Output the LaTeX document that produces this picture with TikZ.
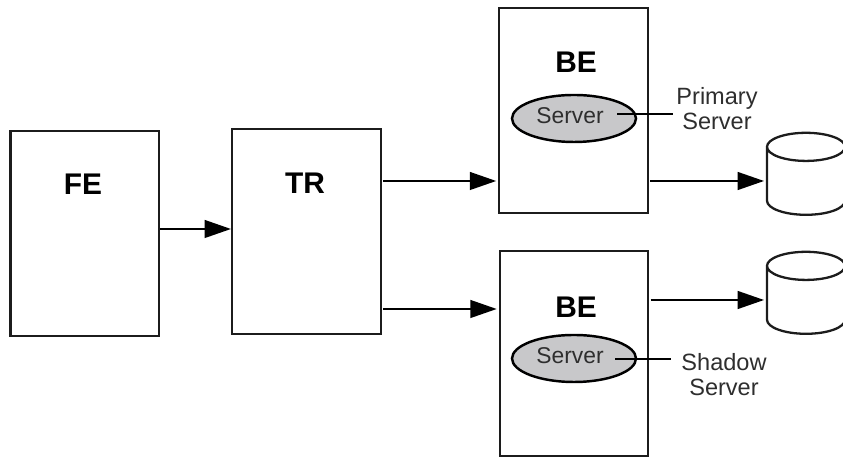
\documentclass[tikz,border=0pt]{standalone}
\usepackage{fontspec}
\setmainfont{Liberation Sans}
\usetikzlibrary{arrows.meta,shapes.geometric}
\definecolor{colorline}{HTML}{1C1C1C}
\definecolor{colorserver}{HTML}{C8C8CA}
\definecolor{colortext}{HTML}{2E2E2E}
\tikzset{
  tier/.style={draw=colorline, line width=1.4pt, minimum width=2.97cm, minimum height=4.1cm},
  tiername/.style={draw=none, font=\fontsize{17}{20}\selectfont\bfseries},
  server/.style={ellipse, draw=black, fill=colorserver, line width=1.4pt, minimum width=2.48cm, minimum height=0.94cm},
  servername/.style={draw=none, colortext, font=\fontsize{13}{14.3}\selectfont},
  rolename/.style={draw=none, colortext, align=center, font=\fontsize{13.4}{14.3}\selectfont},
  store/.style={cylinder, shape border rotate=90, aspect=8, draw=colorline, line width=1.3pt, minimum width=1.56cm, minimum height=1.64cm},
  edgeflow/.style={black, line width=1.4pt, shorten <=0.6pt, shorten >=1pt, -{Triangle[length=15pt,width=10pt]}},
  edgetap/.style={black, line width=1.4pt}
}

\begin{document}
\begin{tikzpicture}[inner sep=1pt]
\useasboundingbox (0,0) rectangle (16.86,9.16);

\node[tier](fe) at (1.695,4.49) {};
\node[tiername](fename) at (1.66,5.48) {FE};

\node[tier](tr) at (6.13,4.525) {};
\node[tiername](trname) at (6.10,5.50) {TR};

\node[tier](bea) at (11.47,6.95) {};
\node[tiername](beaname) at (11.52,7.92) {BE};

\node[tier](beb) at (11.48,2.09) {};
\node[tiername](bebname) at (11.52,3.02) {BE};

\node[server](srva) at (11.48,6.79) {};
\node[servername](srvaname) at (11.40,6.84) {Server};

\node[server](srvb) at (11.48,1.99) {};
\node[servername](srvbname) at (11.40,2.04) {Server};

\node[rolename](primary) at (14.34,6.98) {Primary\\Server};
\node[rolename](shadow) at (14.48,1.66) {Shadow\\Server};

\node[store](dba) at (16.12,5.49) {};
\node[store](dbb) at (16.12,3.11) {};

\coordinate (rowfe) at (0,4.58);
\coordinate (rowtra) at (0,5.54);
\coordinate (rowtrb) at (0,2.98);
\coordinate (rowdba) at (0,5.54);
\coordinate (rowdbb) at (0,3.16);
\coordinate (tapa) at (12.34,6.88);
\coordinate (tapb) at (12.30,1.98);

\draw[edgeflow, shorten <=0pt, shorten >=0pt] (fe.east |- rowfe) -- (tr.west |- rowfe);

\draw[edgeflow] (tr.east |- rowtra) -- (bea.west |- rowtra);

\draw[edgeflow] (tr.east |- rowtrb) -- (beb.west |- rowtrb);

\draw[edgeflow] (bea.east |- rowdba) -- (dba.west |- rowdba);

\draw[edgeflow] (beb.east |- rowdbb) -- (dbb.west |- rowdbb);

\draw[edgetap, shorten >=1pt] (tapa) -- (primary.west |- tapa);

\draw[edgetap, shorten >=4.5pt] (tapb) -- (shadow.west |- tapb);
\end{tikzpicture}
\end{document}
